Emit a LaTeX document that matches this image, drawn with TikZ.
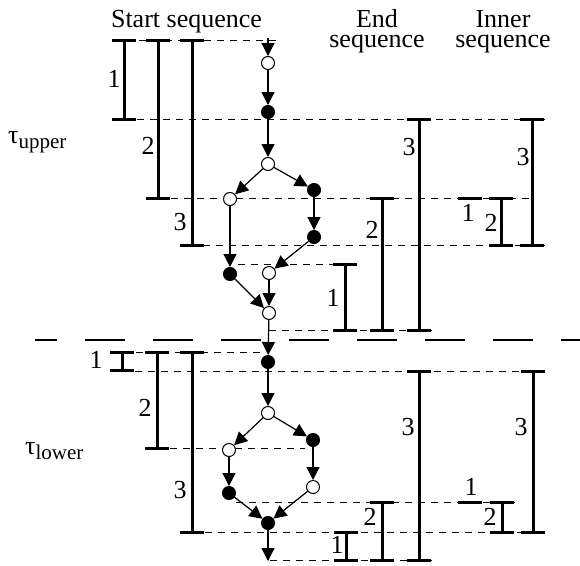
\documentclass[tikz,border=0pt]{standalone}
\usepackage{fontspec}
\setmainfont{Liberation Serif}
\usetikzlibrary{arrows.meta}
% measuring bar: top cap, stem, bottom cap
\newcommand\mbar[3]{\draw[bar] (#1-12,#2) -- (#1+12,#2) (#1,#2) -- (#1,#3) (#1-12,#3) -- (#1+12,#3);}
% a bar of zero length: just the cap
\newcommand\mcap[2]{\draw[bar] (#1-12,#2) -- (#1+12,#2);}
\begin{document}
\begin{tikzpicture}[x=1pt,y=-1pt,
  every node/.style={font=\fontsize{26}{20}\selectfont},
  lab/.style={inner sep=0pt},
  head/.style={inner sep=0pt,align=center,anchor=base},
  vert/.style={circle,draw=black,line width=1pt,minimum size=13pt,inner sep=0pt},
  open/.style={vert,fill=white},
  full/.style={vert,fill=black},
  edge/.style={line width=1.2pt,-{Triangle[length=13pt,width=13pt]}},
  guide/.style={line width=0.9pt,dash pattern=on 7pt off 6pt},
  bar/.style={line width=3pt},
  split/.style={line width=2.8pt,dash pattern=on 40pt off 28pt,dash phase=18pt}]
\useasboundingbox[fill=white] (0,0) rectangle (580,565);

% headings (base anchor of a two-line heading sits on its last line)
\node[head] (hs) at (186.5,27) {Start sequence};
\node[head] (he) at (377,47) {End\\sequence};
\node[head] (hi) at (503,47) {Inner\\sequence};

% tau labels
\node[lab,anchor=base west] (tu) at (8,143) {τ\raisebox{-5pt}{\fontsize{21}{21}\selectfont upper}};
\node[lab,anchor=base west] (tl) at (25,454) {τ\raisebox{-5pt}{\fontsize{21}{21}\selectfont lower}};

% level guides, upper half
\draw[guide] (113,40) -- (277,40);
\draw[guide] (137,119) -- (545,119);
\draw[guide] (171,198) -- (532,198);
\draw[guide] (203,245) -- (545,245);
\draw[guide] (238,264) -- (357,264);
\draw[guide] (269,330) -- (432,330);
% level guides, lower half
\draw[guide] (110,352) -- (262,352);
\draw[guide] (135,371) -- (545,371);
\draw[guide] (170,448) -- (305,448);
\draw[guide] (236,502) -- (515,502);
\draw[guide] (205,532) -- (545,532);
\draw[guide] (270,560) -- (432,560);

% separator between the two halves
\draw[split] (35,340) -- (580,340);

% measuring bars, upper half
\mbar{124}{40}{119}
\mbar{158}{40}{198}
\mbar{192}{40}{245}
\mbar{345}{264}{330}
\mbar{382}{198}{330}
\mbar{419}{119}{330}
\mcap{470}{198}
\mbar{501}{198}{245}
\mbar{532}{119}{245}
% measuring bars, lower half
\mbar{122}{352}{370}
\mbar{157}{352}{448}
\mbar{192}{352}{532}
\mbar{346}{532}{560}
\mbar{382}{502}{560}
\mbar{419}{371}{560}
\mcap{470}{502}
\mbar{502}{502}{532}
\mbar{533}{371}{532}

% bar labels, upper half
\node[lab] (a1) at (114,79) {1};
\node[lab] (a2) at (148,146) {2};
\node[lab] (a3) at (180,222) {3};
\node[lab] (b1) at (333,298) {1};
\node[lab] (b2) at (372,230) {2};
\node[lab] (b3) at (409,147) {3};
\node[lab] (c1) at (468,213) {1};
\node[lab] (c2) at (491,223) {2};
\node[lab] (c3) at (523,157) {3};
% bar labels, lower half
\node[lab] (d1) at (96,360) {1};
\node[lab] (d2) at (145,408) {2};
\node[lab] (d3) at (180,490) {3};
\node[lab] (e1) at (337,545) {1};
\node[lab] (e2) at (370,517) {2};
\node[lab] (e3) at (408,427) {3};
\node[lab] (f1) at (471,487) {1};
\node[lab] (f2) at (490,517) {2};
\node[lab] (f3) at (521,427) {3};

% upper graph
\node[open] (n1) at (268,63) {};
\node[full] (n2) at (268,112) {};
\node[open] (n3) at (268,164) {};
\node[open] (n4) at (230,199) {};
\node[full] (n5) at (314,190) {};
\node[full] (n6) at (314,237) {};
\node[full] (n7) at (230,274) {};
\node[open] (n8) at (269,273) {};
\node[open] (n9) at (269,313) {};
% lower graph
\node[full] (m1) at (268,362) {};
\node[open] (m2) at (268,413) {};
\node[open] (m3) at (229,450) {};
\node[full] (m4) at (313,440) {};
\node[full] (m5) at (229,493) {};
\node[open] (m6) at (313,487) {};
\node[full] (m7) at (268,523) {};

\coordinate (src) at (268,38);
\coordinate (snk) at (268,561);

\draw[edge] (src) -- (n1);
\draw[edge] (n1) -- (n2);
\draw[edge] (n2) -- (n3);
\draw[edge] (n3) -- (n4);
\draw[edge] (n3) -- (n5);
\draw[edge] (n4) -- (n7);
\draw[edge] (n5) -- (n6);
\draw[edge] (n6) -- (n8);
\draw[edge] (n7) -- (n9);
\draw[edge] (n8) -- (n9);
\draw[edge] (n9) -- (m1);
\draw[edge] (m1) -- (m2);
\draw[edge] (m2) -- (m3);
\draw[edge] (m2) -- (m4);
\draw[edge] (m3) -- (m5);
\draw[edge] (m4) -- (m6);
\draw[edge] (m5) -- (m7);
\draw[edge] (m6) -- (m7);
\draw[edge] (m7) -- (snk);
\end{tikzpicture}
\end{document}
